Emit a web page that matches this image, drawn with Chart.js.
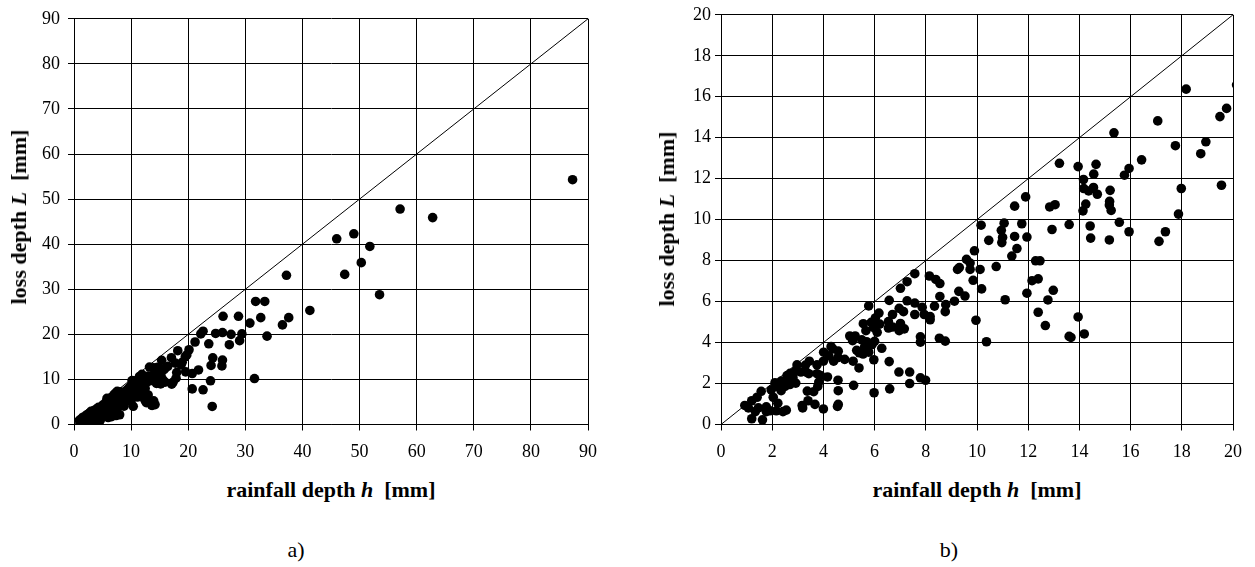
<!DOCTYPE html>
<html>
<head>
<meta charset="utf-8">
<script src="https://cdn.jsdelivr.net/npm/chart.js@4"></script>
<style>
  body { margin: 0; background: #fff; width: 1255px; height: 567px; position: relative; overflow: hidden;
         font-family: 'Liberation Serif', 'Times New Roman', serif; color: #000; }
  canvas { position: absolute; top: 0; }
  .title { position: absolute; white-space: pre; font-weight: bold; font-size: 22px; transform: translate(-50%, -50%); }
  .title.vert { transform: translate(-50%, -50%) rotate(-90deg); }
  .cap { position: absolute; font-size: 22px; transform: translate(-50%, -50%); }
</style>
</head>
<body>
<canvas id="chartA" width="620" height="470" style="left:0"></canvas>
<canvas id="chartB" width="625" height="470" style="left:630px"></canvas>

<div class="title vert" style="left:19px; top:217px">loss depth <i>L</i>  [mm]</div>
<div class="title" style="left:331px; top:490px">rainfall depth <i>h</i>  [mm]</div>
<div class="cap" style="left:296px; top:550px">a)</div>

<div class="title vert" style="left:667px; top:219px">loss depth <i>L</i>  [mm]</div>
<div class="title" style="left:977px; top:490px">rainfall depth <i>h</i>  [mm]</div>
<div class="cap" style="left:949px; top:550px">b)</div>

<script>
// events with rainfall depth below ~20 mm
const smallEventsH = [
  20.14, 18.17, 19.75, 19.49, 17.06, 15.35, 17.75, 18.94, 18.74, 16.43,
  13.22, 13.95, 14.65, 15.94, 15.76, 14.56, 14.16, 14.17, 14.55, 14.36,
  14.70, 15.20, 19.55, 17.98, 11.90, 15.18, 15.17, 15.24, 14.25, 14.14,
  13.05, 12.84, 11.47, 17.87, 15.56, 13.60, 11.75, 11.06, 10.16, 12.93,
  14.42, 10.95, 11.00, 11.47, 11.95, 15.94, 17.36, 17.11, 14.44, 15.17,
  10.46, 10.97, 11.56, 11.36, 9.90, 9.59, 9.73, 9.31, 9.24, 9.73,
  10.12, 10.75, 12.29, 12.46, 7.57, 7.27, 7.01, 8.14, 8.39, 8.55,
  9.85, 12.15, 12.39, 10.18, 9.29, 9.53, 11.95, 12.98, 11.10, 12.77,
  9.12, 8.55, 8.34, 8.78, 8.76, 12.39, 9.96, 13.95, 12.67, 10.37,
  13.60, 13.67, 14.19, 8.53, 8.76, 7.79, 7.79, 8.17, 8.17, 5.77,
  6.57, 6.96, 7.27, 7.57, 7.86, 7.57, 7.94, 7.13, 6.70, 6.54,
  6.70, 7.01, 7.16, 6.96, 6.54, 6.17, 6.03, 5.87, 5.56, 5.66,
  5.95, 5.24, 5.14, 5.50, 5.69, 6.00, 5.30, 5.61, 5.77, 5.55,
  6.28, 5.97, 6.57, 6.95, 7.37, 7.37, 7.79, 7.99, 6.59, 5.98,
  5.18, 5.16, 5.39, 4.37, 4.58, 4.01, 4.21, 4.57, 4.83, 4.40,
  4.00, 3.75, 3.89, 4.16, 3.75, 3.45, 3.33, 2.97, 3.12, 2.81,
  2.58, 2.35, 2.11, 2.22, 2.50, 2.69, 2.92, 1.96, 2.35, 2.04,
  2.22, 2.16, 2.42, 2.55, 1.91, 1.57, 1.41, 1.20, 0.93, 1.07,
  1.34, 1.46, 1.77, 1.77, 1.20, 1.62, 3.37, 3.62, 3.78, 3.19,
  3.17, 3.40, 3.67, 4.00, 4.57, 4.58, 4.58, 4.55, 3.82, 3.43,
  5.03, 6.20, 6.10, 5.90, 5.40, 2.70, 2.90, 3.30, 2.60, 4.30
]
const smallEventsL = [
  16.58, 16.37, 15.43, 15.03, 14.82, 14.24, 13.61, 13.80, 13.22, 12.92,
  12.75, 12.59, 12.70, 12.50, 12.17, 12.22, 11.96, 11.52, 11.57, 11.40,
  11.24, 11.43, 11.68, 11.52, 11.11, 10.89, 10.71, 10.45, 10.76, 10.43,
  10.73, 10.62, 10.66, 10.27, 9.87, 9.76, 9.80, 9.83, 9.73, 9.52,
  9.69, 9.48, 9.13, 9.18, 9.15, 9.41, 9.41, 8.94, 9.10, 9.01,
  8.99, 8.88, 8.59, 8.22, 8.48, 8.06, 7.88, 7.66, 7.57, 7.57,
  7.57, 7.71, 7.99, 7.99, 7.36, 6.97, 6.65, 7.25, 7.08, 6.88,
  7.04, 7.02, 7.11, 6.62, 6.50, 6.27, 6.41, 6.55, 6.09, 6.08,
  6.02, 6.25, 5.78, 5.85, 5.51, 5.48, 5.09, 5.25, 4.83, 4.04,
  4.30, 4.25, 4.42, 4.21, 4.07, 4.28, 4.02, 5.27, 5.11, 5.79,
  6.06, 5.67, 6.04, 5.93, 5.72, 5.37, 5.37, 5.51, 5.37, 5.02,
  4.76, 4.93, 4.67, 4.58, 4.71, 5.44, 5.20, 4.99, 4.92, 4.58,
  4.74, 4.32, 4.09, 4.13, 4.04, 4.06, 3.62, 3.79, 3.53, 3.44,
  3.72, 3.16, 3.07, 2.56, 2.56, 2.00, 2.28, 2.16, 1.74, 1.55,
  1.91, 3.09, 2.76, 3.69, 3.58, 3.53, 3.35, 3.27, 3.18, 3.09,
  3.09, 2.91, 2.39, 2.32, 2.48, 3.09, 2.56, 2.91, 2.56, 2.30,
  2.39, 2.12, 2.04, 1.84, 1.86, 1.95, 2.02, 1.69, 1.65, 1.33,
  1.04, 0.67, 0.63, 0.70, 0.67, 1.62, 1.33, 1.16, 0.93, 0.81,
  0.63, 0.81, 0.86, 0.63, 0.28, 0.23, 1.63, 1.60, 1.86, 0.81,
  0.93, 1.16, 0.98, 0.76, 2.16, 1.65, 0.98, 0.88, 2.07, 2.48,
  4.32, 4.90, 4.50, 3.90, 3.50, 2.50, 2.60, 2.90, 2.20, 3.80
]

// events with rainfall depth above 20 mm
const largeEventsH = [
  21.2, 20.7, 20.7, 21.8, 22.2, 22.6, 22.6, 23.6, 23.9, 24.0,
  24.2, 24.3, 24.8, 25.9, 26.0, 26.0, 26.1, 27.2, 27.5, 28.8,
  29.0, 29.4, 30.8, 31.6, 31.8, 32.7, 33.4, 33.8, 36.5, 37.2,
  37.6, 41.3, 46.0, 47.4, 49.0, 50.3, 51.8, 53.5, 57.1, 62.8,
  87.3
]
const largeEventsL = [
  18.3, 11.3, 7.9, 12.1, 20.1, 20.7, 7.7, 17.9, 9.7, 13.1,
  4.0, 14.8, 20.2, 13.0, 14.3, 20.4, 24.0, 17.7, 20.0, 24.0,
  18.6, 20.1, 22.5, 10.2, 27.3, 23.7, 27.3, 19.6, 22.1, 33.1,
  23.7, 25.3, 41.2, 33.3, 42.3, 35.9, 39.5, 28.8, 47.8, 45.9,
  54.3
]

// line of equality L = h, one per panel
const equalityA = [0, 90]
const equalityB = [0, 20]

const rainfallH = smallEventsH.concat(largeEventsH)
const lossL = smallEventsL.concat(largeEventsL)

const FONT_FAMILY = "'Liberation Serif', 'Times New Roman', serif"

function buildConfig (maxValue, step, line, area, yTickPad) {
  const events = rainfallH.map((h, i) => ({ x: h, y: lossL[i] }))
  const axis = (fit) => ({
    type: 'linear',
    min: 0,
    max: maxValue,
    ticks: { stepSize: step, color: '#000', font: { family: FONT_FAMILY, size: 18 } },
    grid: { color: '#000', lineWidth: 1, tickLength: 6 },
    border: { color: '#000', width: 1 },
    afterFit: fit
  })
  const x = axis((scale) => { scale.height = 40 })
  x.ticks.padding = 11
  x.ticks.maxRotation = 0
  const y = axis((scale) => { scale.width = area.yWidth })
  y.ticks.padding = yTickPad

  return {
    type: 'scatter',
    data: {
      datasets: [
        {
          data: events,
          pointRadius: 4.8,
          pointBorderWidth: 0,
          pointBackgroundColor: '#000',
          pointHoverRadius: 4.8
        },
        {
          data: line.map(v => ({ x: v, y: v })),
          showLine: true,
          borderColor: '#000',
          borderWidth: 1,
          pointRadius: 0
        }
      ]
    },
    options: {
      responsive: false,
      animation: false,
      layout: { padding: area.padding },
      plugins: { legend: { display: false }, tooltip: { enabled: false } },
      scales: { x: x, y: y }
    }
  }
}

new Chart(document.getElementById('chartA'), buildConfig(90, 10, equalityA,
  { yWidth: 74, padding: { left: 0, top: 9, right: 32, bottom: 5.5 } }, 8))
new Chart(document.getElementById('chartB'), buildConfig(20, 2, equalityB,
  { yWidth: 91, padding: { left: 0, top: 13.5, right: 22, bottom: 5.5 } }, 4))
</script>
</body>
</html>
